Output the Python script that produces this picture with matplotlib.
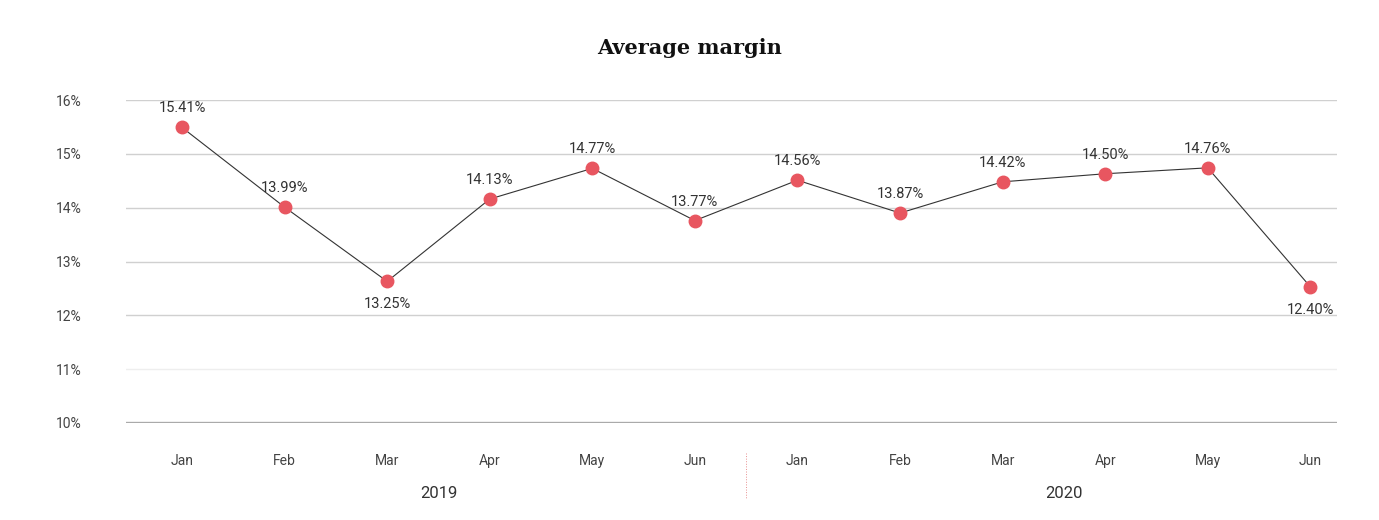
import matplotlib
matplotlib.use("Agg")
import matplotlib.pyplot as plt
import matplotlib.transforms as mtransforms

months = ['Jan', 'Feb', 'Mar', 'Apr', 'May', 'Jun',
          'Jan', 'Feb', 'Mar', 'Apr', 'May', 'Jun']
years = ['2019', '2020']
# plotted point heights as they appear in the chart
margin = [15.49, 14.01, 12.63, 14.16, 14.73, 13.76,
          14.51, 13.90, 14.48, 14.63, 14.74, 12.53]
# data labels as printed on the chart
labels = ['15.41%', '13.99%', '13.25%', '14.13%', '14.77%', '13.77%',
          '14.56%', '13.87%', '14.42%', '14.50%', '14.76%', '12.40%']
below = [False, False, True, False, False, False,
         False, False, False, False, False, True]
yticks = [10, 11, 12, 13, 14, 15, 16]

plt.rcParams['font.family'] = ['Roboto', 'DejaVu Sans']

fig = plt.figure(figsize=(13.79, 5.2), dpi=100)
ax = fig.add_axes([126/1379, 1 - 423/520, (1337 - 126)/1379, 323/520])

x = list(range(len(months)))
ax.plot(x, margin, color='#333333', lw=0.8, zorder=3,
        marker='o', markersize=9, markerfacecolor='#e85660',
        markeredgecolor='#e85660')

for xi, yi, lab, b in zip(x, margin, labels, below):
    off = -23 if b else 19
    ax.annotate(lab, (xi, yi), xytext=(0, off), textcoords='offset pixels',
                ha='center', va='center', fontsize=10.5, color='#333333')

ax.set_xlim(-0.546, 11.26)
ax.set_ylim(10, 16)

# grid lines
for t in yticks[1:]:
    c = '#eeeeee' if t == 11 else '#d0d0d0'
    ax.axhline(t, color=c, lw=1, zorder=1)
ax.axhline(10, color='#aaaaaa', lw=2.4, zorder=2)

ax.set_yticks(yticks)
ax.set_yticklabels([f'{t}%' for t in yticks], fontsize=10, color='#444444')
ax.set_xticks(x)
ax.set_xticklabels(months, fontsize=10, color='#444444')
ax.tick_params(axis='y', length=0, pad=32)
ax.tick_params(axis='x', length=0, pad=22)
for s in ax.spines.values():
    s.set_visible(False)

trans = mtransforms.blended_transform_factory(ax.transData, ax.transAxes)
ax.text(2.5, -0.217, years[0], transform=trans, ha='center', va='center',
        fontsize=12, color='#333333')
ax.text(8.6, -0.217, years[1], transform=trans, ha='center', va='center',
        fontsize=12, color='#333333')
ax.plot([5.5, 5.5], [-0.093, -0.235], transform=trans, clip_on=False,
        color='#e89090', lw=0.7, ls=':')

fig.text(0.5, 1 - 48/520, 'Average margin', ha='center', va='center',
         fontsize=15, fontweight='bold', family='DejaVu Serif', color='#111111')

fig.savefig('out.png', dpi=100)
